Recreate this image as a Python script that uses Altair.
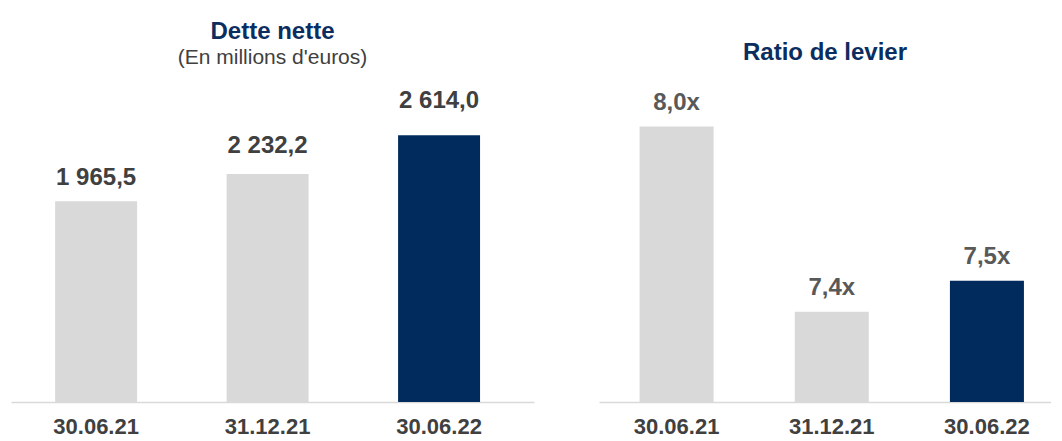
import altair as alt
import pandas as pd

dates = ["30.06.21", "31.12.21", "30.06.22"]
dette_nette = [1965.5, 2232.2, 2614.0]
ratio_levier = [8.0, 7.4, 7.5]
highlight_date = "30.06.22"

GRAY = "#d9d9d9"
NAVY = "#022b5d"
TITLE_NAVY = "#0b2d60"
DARK = "#404040"
MID = "#595959"
FONT = "Liberation Sans"


def fr_num(v):
    s = f"{v:,.1f}"
    return s.replace(",", " ").replace(".", ",")


df_left = pd.DataFrame({
    "date": dates,
    "value": dette_nette,
    "label": [fr_num(v) for v in dette_nette],
})
df_right = pd.DataFrame({
    "date": dates,
    "value": ratio_levier,
    "label": [f"{v:.1f}x".replace(".", ",") for v in ratio_levier],
})

left_domain = [0, 3154]
left_label_domain = [0, 2713]
right_domain = [7.107, 8.151]

color_cond = alt.condition(
    alt.datum.date == highlight_date, alt.value(NAVY), alt.value(GRAY)
)


def panel(df, ydomain, label_domain, label_color, label_dy, xscale, width, title):
    base = alt.Chart(df)
    x = alt.X("date:N", sort=dates, scale=xscale, axis=alt.Axis(title=None, labelAngle=0))
    y = alt.Y("value:Q", scale=alt.Scale(domain=ydomain, zero=False, nice=False), axis=None)
    yt = alt.Y("value:Q", scale=alt.Scale(domain=label_domain, zero=False, nice=False), axis=None)
    bars = base.mark_bar().encode(
        x=x,
        y=y,
        y2=alt.datum(ydomain[0]),
        color=color_cond,
    )
    text = base.mark_text(
        baseline="alphabetic",
        dy=label_dy,
        fontSize=24,
        fontWeight="bold",
        font=FONT,
        color=label_color,
    ).encode(x=x, y=yt, text="label:N")
    return (
        (bars + text)
        .resolve_scale(y="independent")
        .properties(width=width, height=322, title=title)
    )


left = panel(
    df_left,
    left_domain,
    left_label_domain,
    DARK,
    16,
    alt.Scale(paddingInner=0.522, paddingOuter=0.286, align=0.45),
    523,
    alt.TitleParams(
        text="Dette nette",
        subtitle="(En millions d'euros)",
        fontSize=24,
        fontWeight="bold",
        font=FONT,
        color=TITLE_NAVY,
        subtitleFont=FONT,
        subtitleFontSize=21,
        subtitleColor=DARK,
        subtitlePadding=3,
        anchor="middle",
        offset=12,
    ),
)

right = panel(
    df_right,
    right_domain,
    right_domain,
    MID,
    -17,
    alt.Scale(paddingInner=0.523, paddingOuter=0.218, align=0.6),
    452,
    alt.TitleParams(
        text="Ratio de levier",
        fontSize=24,
        fontWeight="bold",
        font=FONT,
        color=TITLE_NAVY,
        anchor="middle",
        baseline="alphabetic",
        offset=19,
        dy=23,
    ),
)

chart = (
    alt.hconcat(left, right, spacing=65)
    .properties(padding={"left": 3, "top": 12, "right": 0, "bottom": 0})
    .configure_view(stroke=None)
    .configure_axis(
        domainColor=GRAY,
        domainWidth=1.5,
        ticks=False,
        grid=False,
        labelFont=FONT,
        labelFontSize=22,
        labelFontWeight="bold",
        labelColor=DARK,
        labelPadding=14,
    )
)

chart.save("out.html", embed_options={"renderer": "svg", "actions": False})
